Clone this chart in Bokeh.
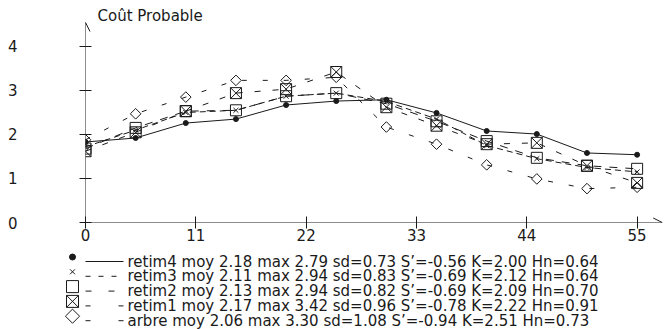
import math
from bokeh.plotting import figure
from bokeh.layouts import column
from bokeh.core.properties import value
from bokeh.models import Arrow, OpenHead, Label, FixedTicker, Range1d
from bokeh.embed import file_html
from bokeh.resources import INLINE

# ---- data ----
xs = [0, 5, 10, 15, 20, 25, 30, 35, 40, 45, 50, 55]
retim4 = [1.83, 1.92, 2.26, 2.35, 2.67, 2.76, 2.79, 2.49, 2.08, 2.01, 1.58, 1.54]
retim3 = [1.72, 2.10, 2.50, 2.55, 2.87, 2.94, 2.75, 2.35, 1.75, 1.45, 1.25, 1.15]
retim2 = [1.68, 2.15, 2.53, 2.55, 2.87, 2.94, 2.70, 2.30, 1.85, 1.47, 1.29, 1.22]
retim1 = [1.62, 2.05, 2.53, 2.94, 3.03, 3.42, 2.62, 2.20, 1.78, 1.81, 1.29, 0.90]
arbre = [1.88, 2.47, 2.85, 3.23, 3.23, 3.30, 2.17, 1.78, 1.31, 0.99, 0.77, 0.80]

x_ticks = [0, 11, 22, 33, 44, 55]
y_ticks = [0, 1, 2, 3, 4]
y_title = "Coût Probable"

legend_labels = [
    "retim4 moy 2.18 max 2.79 sd=0.73 S’=-0.56 K=2.00 Hn=0.64",
    "retim3 moy 2.11 max 2.94 sd=0.83 S’=-0.69 K=2.12 Hn=0.64",
    "retim2 moy 2.13 max 2.94 sd=0.82 S’=-0.69 K=2.09 Hn=0.70",
    "retim1 moy 2.17 max 3.42 sd=0.96 S’=-0.78 K=2.22 Hn=0.91",
    "arbre  moy 2.06 max 3.30 sd=1.08 S’=-0.94 K=2.51 Hn=0.73",
]

FONT = "DejaVu Sans"
INK = "#1a1a1a"
DIAMOND_ANGLE = math.pi / 4

# series styles: (values, marker, size, angle, filled, plot dash, legend dash, legend size)
series = [
    (retim4, "circle", 5, 0.0, True, "solid", "solid", 6),
    (retim3, "x", 7, 0.0, False, "6 4", "5 8", 7),
    (retim2, "square", 11, 0.0, False, "8 8", "6 17", 12),
    (retim1, "square_x", 11, 0.0, False, "6 12", "5 28", 12),
    (arbre, "square", 7.5, DIAMOND_ANGLE, False, "5 16", "5 28", 10),
]

# ---------------- main chart ----------------
P1_H = 248
LEFT = 85
p = figure(width=665, height=P1_H, output_backend="svg", toolbar_location=None,
           x_range=Range1d(0, 57.83), y_range=Range1d(0, 5.045),
           min_border_left=LEFT, min_border_right=0, min_border_top=0,
           min_border_bottom=P1_H - 222)
p.grid.visible = False
p.outline_line_color = None
p.frame_align = False

for ax in (p.xaxis[0], p.yaxis[0]):
    ax.axis_line_color = None
    ax.major_tick_line_color = INK
    ax.major_tick_in = 6
    ax.major_tick_out = 6
    ax.minor_tick_line_color = None
    ax.major_label_text_font = FONT
    ax.major_label_text_font_size = "15px"
    ax.major_label_text_color = INK

p.xaxis.ticker = FixedTicker(ticks=x_ticks)
p.yaxis.ticker = FixedTicker(ticks=y_ticks)
p.xaxis.major_label_standoff = 0
p.yaxis.major_label_standoff = 62

p.add_layout(Arrow(x_start=-0.5, y_start=0, x_end=57.5, y_end=0, line_color=INK, line_width=1,
                   end=OpenHead(size=9, line_color=INK, line_width=1)))
p.add_layout(Arrow(x_start=0, y_start=-0.03, x_end=0, y_end=4.545, line_color=INK, line_width=1,
                   end=OpenHead(size=9, line_color=INK, line_width=1)))

p.add_layout(Label(x=12, y=207, x_units="screen", y_units="screen", text=y_title,
                   text_font=FONT, text_font_size="15px", text_color=INK,
                   text_baseline="middle"))

for vals, mk, sz, ang, filled, dash, _, _ in series:
    p.line(xs, vals, line_color=INK, line_width=1, line_dash=dash)
    p.scatter(xs, vals, marker=mk, size=sz, angle=ang,
              fill_color=INK if filled else None, line_color=INK)

# ---------------- legend block (data units = page pixels) ----------------
p2 = figure(width=665, height=329 - P1_H, output_backend="svg", toolbar_location=None,
            x_range=Range1d(0, 665), y_range=Range1d(329, P1_H),
            x_axis_type=None, y_axis_type=None, min_border=0)
p2.grid.visible = False
p2.outline_line_color = None
p2.frame_align = False

base = [261.0, 275.8, 290.6, 305.4, 320.2]
for (vals, mk, sz, ang, filled, dash, ldash, ls), lab, b in zip(series, legend_labels, base):
    p2.scatter([72], [b - 4.5], marker=mk, size=ls, angle=ang,
               fill_color=INK if filled else None, line_color=INK)
    p2.segment([85], [b], [123], [b], line_color=INK, line_width=1, line_dash=ldash)
    p2.text([127], [b], text=[lab], text_font=value(FONT), text_font_size=value("15px"),
            text_color=INK, text_baseline="alphabetic", text_align="left")

open("out.html", "w").write(file_html(column(p, p2), INLINE))
